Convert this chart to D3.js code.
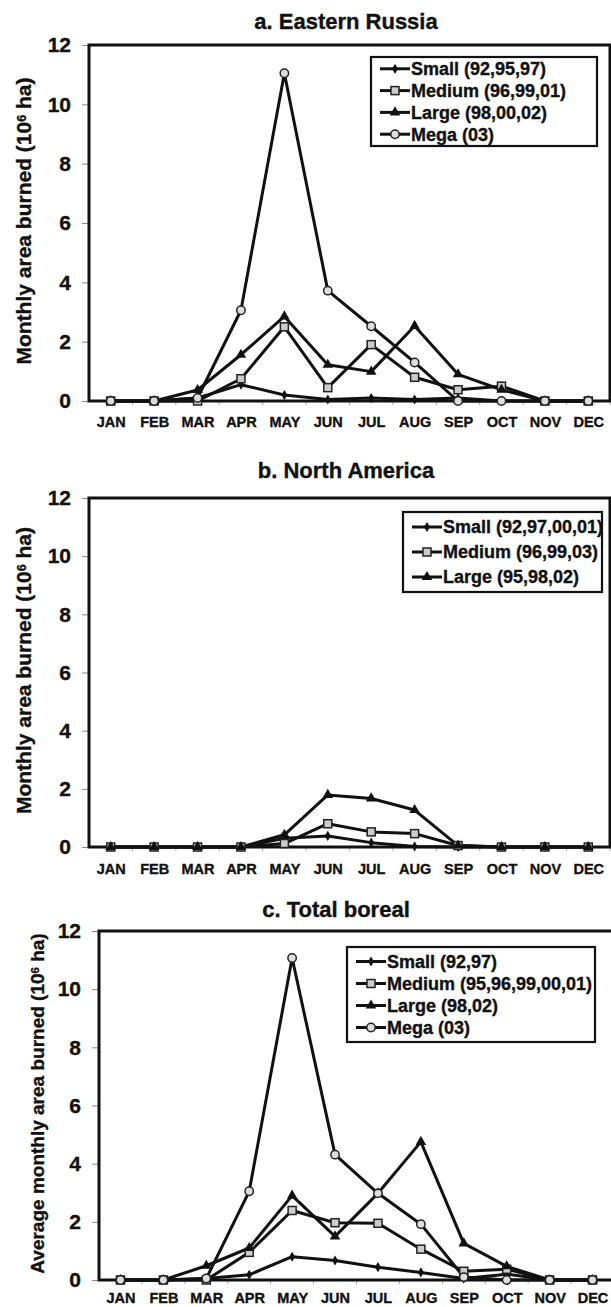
<!DOCTYPE html>
<html>
<head>
<meta charset="utf-8">
<script src="https://cdn.jsdelivr.net/npm/d3@7"></script>
<style>
  body { margin: 0; background: #fff; }
  svg text { font-family: "Liberation Sans", Arial, sans-serif; font-weight: bold; fill: #111; stroke: #111; stroke-width: 0.35px; }
</style>
</head>
<body>
<div id="chart"></div>
<script>
// months on the x axis
const months = ["JAN", "FEB", "MAR", "APR", "MAY", "JUN", "JUL", "AUG", "SEP", "OCT", "NOV", "DEC"];
const yTicks = [0, 2, 4, 6, 8, 10, 12];

// a. Eastern Russia (10^6 ha)
const russiaSmall  = [0, 0, 0.1, 0.55, 0.2, 0.05, 0.1, 0.05, 0.1, 0, 0, 0];
const russiaMedium = [0, 0, 0, 0.75, 2.5, 0.45, 1.9, 0.8, 0.38, 0.5, 0, 0];
const russiaLarge  = [0, 0, 0.37, 1.56, 2.85, 1.22, 0.99, 2.53, 0.9, 0.38, 0, 0];
const russiaMega   = [0, 0, 0.1, 3.06, 11.05, 3.72, 2.52, 1.3, 0, 0, 0, 0];
const russiaLegend = ["Small (92,95,97)", "Medium (96,99,01)", "Large (98,00,02)", "Mega (03)"];

// b. North America
const naSmall  = [0, 0, 0, 0, 0.3, 0.38, 0.15, 0.02, 0, 0, 0, 0];
const naMedium = [0, 0, 0, 0, 0.12, 0.8, 0.52, 0.46, 0.05, 0, 0, 0];
const naLarge  = [0, 0, 0, 0, 0.42, 1.79, 1.67, 1.27, 0.05, 0, 0, 0];
const naLegend = ["Small (92,97,00,01)", "Medium (96,99,03)", "Large (95,98,02)"];

// c. Total boreal
const borealSmall  = [0, 0, 0.05, 0.18, 0.8, 0.67, 0.44, 0.26, 0.05, 0.2, 0, 0];
const borealMedium = [0, 0, 0, 0.95, 2.39, 1.97, 1.95, 1.06, 0.3, 0.37, 0, 0];
const borealLarge  = [0, 0, 0.49, 1.1, 2.9, 1.5, 2.98, 4.75, 1.26, 0.47, 0, 0];
const borealMega   = [0, 0, 0.05, 3.05, 11.07, 4.31, 2.98, 1.92, 0.1, 0, 0, 0];
const borealLegend = ["Small (92,97)", "Medium (95,96,99,00,01)", "Large (98,02)", "Mega (03)"];

const markerKinds = ["small", "medium", "large", "mega"];

const panels = [
    {title: "a. Eastern Russia", yTitle: "Monthly area burned (10", series: [russiaSmall, russiaMedium, russiaLarge, russiaMega], legend: russiaLegend,
     left: 89, right: 610, top: 45, bottom: 401, titleX: 346, titleY: 29, yTitleX: 24, yTitleSize: 21, monthPad: 16,
     lg: {x: 371, y: 57, w: 226, h: 89, row: 21.8}},
    {title: "b. North America", yTitle: "Monthly area burned (10", series: [naSmall, naMedium, naLarge], legend: naLegend,
     left: 89, right: 610, top: 498, bottom: 847, titleX: 346, titleY: 478, yTitleX: 24, yTitleSize: 21, monthPad: 17,
     lg: {x: 403, y: 512, w: 199, h: 80, row: 25}},
    {title: "c. Total boreal", yTitle: "Average monthly area burned (10", series: [borealSmall, borealMedium, borealLarge, borealMega], legend: borealLegend,
     left: 99, right: 614, top: 931, bottom: 1280, titleX: 336, titleY: 917, yTitleX: 37, yTitleSize: 19, monthPad: 13,
     lg: {x: 347, y: 947, w: 248, h: 95, row: 22}}
];

const W = 611, H = 1307;
const svg = d3.select("#chart").append("svg")
    .attr("width", W)
    .attr("height", H);

// 画标记
function drawMarker(g, kind, cx, cy) {
    if (kind === "small") {
        g.append("path").attr("d", d3.symbol(d3.symbolDiamond, 30)())
            .attr("transform", `translate(${cx},${cy})`).attr("fill", "#111");
    } else if (kind === "medium") {
        g.append("rect").attr("x", cx - 4).attr("y", cy - 4).attr("width", 8).attr("height", 8)
            .attr("fill", "#ccc").attr("stroke", "#222").attr("stroke-width", 1.5);
    } else if (kind === "large") {
        g.append("path").attr("d", d3.symbol(d3.symbolTriangle, 48)())
            .attr("transform", `translate(${cx},${cy})`).attr("fill", "#111");
    } else {
        g.append("circle").attr("cx", cx).attr("cy", cy).attr("r", 4.2)
            .attr("fill", "#ddd").attr("stroke", "#222").attr("stroke-width", 1.5);
    }
}

panels.forEach(p => {
    const g = svg.append("g");
    const x = d3.scalePoint().domain(months).range([p.left, p.right]).padding(0.5);
    const y = d3.scaleLinear().domain([0, 12]).range([p.bottom, p.top]);

    // title
    g.append("text").attr("x", p.titleX).attr("y", p.titleY)
        .attr("text-anchor", "middle").style("font-size", "22px").text(p.title);

    // y axis
    const yAxis = g.append("g").attr("transform", `translate(${p.left},0)`)
        .call(d3.axisLeft(y).tickValues(yTicks).tickSize(7).tickPadding(11));
    yAxis.select(".domain").remove();
    yAxis.selectAll("line").attr("stroke", "#888");
    yAxis.selectAll("text").style("font-size", "21px").attr("fill", "#111");

    // x axis
    const xAxis = g.append("g").attr("transform", `translate(0,${p.bottom})`)
        .call(d3.axisBottom(x).tickSize(0).tickPadding(p.monthPad));
    xAxis.select(".domain").remove();
    xAxis.selectAll("text").style("font-size", "14.5px").attr("fill", "#111");

    // minor ticks between months
    const step = x.step();
    g.append("g").selectAll("line")
        .data(months)
        .enter().append("line")
        .attr("x1", d => x(d) + step / 2).attr("x2", d => x(d) + step / 2)
        .attr("y1", p.bottom).attr("y2", p.bottom + 4)
        .attr("stroke", "#aaa");

    // y title
    const yt = g.append("text")
        .attr("transform", `translate(${p.yTitleX},${(p.top + p.bottom) / 2 - 2}) rotate(-90)`)
        .attr("text-anchor", "middle").attr("dy", "0.35em")
        .style("font-size", p.yTitleSize + "px");
    yt.append("tspan").text(p.yTitle);
    yt.append("tspan").attr("dy", "-0.45em").style("font-size", "0.6em").text("6");
    yt.append("tspan").attr("dy", "0.27em").text(" ha)");

    // plot box
    g.append("rect").attr("x", p.left).attr("y", p.top)
        .attr("width", p.right - p.left).attr("height", p.bottom - p.top)
        .attr("fill", "none").attr("stroke", "#111").attr("stroke-width", 3);

    // lines
    const line = d3.line().x((d, i) => x(months[i])).y(d => y(d));
    p.series.forEach((vals, si) => {
        g.append("path").datum(vals)
            .attr("d", line)
            .attr("fill", "none").attr("stroke", "#111").attr("stroke-width", 3)
            .attr("stroke-linejoin", "round");
    });
    p.series.forEach((vals, si) => {
        const mg = g.append("g");
        vals.forEach((v, i) => drawMarker(mg, markerKinds[si], x(months[i]), y(v)));
    });

    // legend
    const lg = g.append("g");
    lg.append("rect").attr("x", p.lg.x).attr("y", p.lg.y).attr("width", p.lg.w).attr("height", p.lg.h)
        .attr("fill", "#fff").attr("stroke", "#111").attr("stroke-width", 2.2);
    p.legend.forEach((name, i) => {
        const cy = p.lg.y + 11 + p.lg.row * i + (p.lg.h - 11 * 2 - p.lg.row * (p.legend.length - 1)) / 2;
        const lx = p.lg.x + 9;
        lg.append("line").attr("x1", lx).attr("x2", lx + 30).attr("y1", cy).attr("y2", cy)
            .attr("stroke", "#111").attr("stroke-width", 3);
        drawMarker(lg, markerKinds[i], lx + 15, cy);
        lg.append("text").attr("x", lx + 31).attr("y", cy).attr("dy", "0.36em")
            .style("font-size", "18px").text(name);
    });
});
</script>
</body>
</html>
